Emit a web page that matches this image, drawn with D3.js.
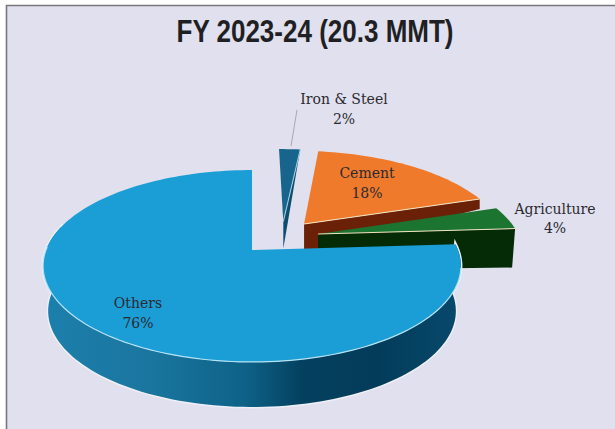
<!DOCTYPE html>
<html>
<head>
<meta charset="utf-8">
<script src="https://cdn.jsdelivr.net/npm/d3@7"></script>
<style>
    html, body { margin: 0; padding: 0; background: #fff; }
    svg { display: block; }
    .label { font-family: "DejaVu Serif", serif; font-size: 14px; text-anchor: middle; fill: #2b2a30; }
</style>
</head>
<body>
<div id="chart"></div>
<script>
var title = 'FY 2023-24 (20.3 MMT)';
var categories = ['Iron & Steel', 'Cement', 'Agriculture', 'Others'];
var shares = [2, 18, 4, 76];

var width = 615, height = 429;

// exploded offset of each slice on the disc, wall depth at apex and rim
var explode = {
    'Iron & Steel': { u: 0.16, v: 0.32, near: 27, far: 0, top: '#17648d', wall: '#0d4c6e' },
    'Cement': { u: 0.265, v: 0.292, near: 30, far: 10, top: '#f07a2c', wall: '#6b2107' },
    'Agriculture': { u: 0.33, v: 0.176, near: 36, far: 39, top: '#1c7431', wall: '#042a06' },
    'Others': { u: 0, v: 0, top: '#1b9dd6' }
};
var labelAt = {
    'Iron & Steel': [344, 104, 124],
    'Cement': [367, 178, 198],
    'Agriculture': [555, 214, 233],
    'Others': [138, 308, 328]
};

var svg = d3.select('#chart').append('svg').attr('width', width).attr('height', height);

svg.append('rect').attr('x', 6).attr('y', 5).attr('width', width - 6).attr('height', height - 5)
    .attr('fill', '#e0e0ee');
svg.append('path').attr('d', 'M6.5,' + height + 'V5.5H' + width)
    .attr('fill', 'none').attr('stroke', '#77777c').attr('stroke-width', 1.6);

var defs = svg.append('defs');
var grad = defs.append('linearGradient').attr('id', 'othersWall')
    .attr('gradientUnits', 'userSpaceOnUse').attr('x1', 46).attr('x2', 460).attr('y1', 0).attr('y2', 0);
[[0, '#1c7fab'], [0.25, '#1a769f'], [0.48, '#0e6288'], [0.62, '#04405f'], [0.8, '#033c5a'], [1, '#07496c']]
    .forEach(function (s) {
        grad.append('stop').attr('offset', s[0]).attr('stop-color', s[1]);
    });

// top plane and floor plane of the disc, same tilt
var tilt = 1 / 6;
var xTop = d3.scaleLinear().domain([0, 1]).range([252, 458]);
var yTop = d3.scaleLinear().domain([0, 1]).range([250, 156.7]);
var xFloor = d3.scaleLinear().domain([0, 1]).range([252, 453]);
var yFloor = d3.scaleLinear().domain([0, 1]).range([295, 201.7]);

function project(u, v, xs, ys) {
    var w = 1 + tilt * v;
    return [xs(u / w), ys(v / w)];
}

function rimPoints(a0, a1, off, xs, ys) {
    var n = Math.max(2, Math.ceil((a1 - a0) / 0.03));
    return d3.range(n + 1).map(function (i) {
        var a = a0 + (a1 - a0) * i / n;
        return project(off.u + Math.sin(a), off.v + Math.cos(a), xs, ys);
    });
}

var line = d3.line();
var arcs = d3.pie().sort(null).value(function (d, i) { return shares[i]; })(categories);

function drawSlice(d) {
    var off = explode[d.data];
    var apex = project(off.u, off.v, xTop, yTop);
    var rim = rimPoints(d.startAngle, d.endAngle, off, xTop, yTop);
    var g = svg.append('g').attr('class', 'slice');

    if (d.data === 'Others') {
        var rimEnd = (285 / 180) * Math.PI;
        var upper = rimPoints(d.startAngle, rimEnd, off, xTop, yTop);
        var lower = rimPoints(d.startAngle, rimEnd, off, xFloor, yFloor).reverse();
        g.append('path').attr('d', line(upper.concat(lower)) + 'Z')
            .attr('fill', 'url(#othersWall)').attr('stroke', '#eef0f8').attr('stroke-width', 3);
        g.append('path').attr('d', line(upper.concat(lower)) + 'Z').attr('fill', 'url(#othersWall)');
    } else {
        // the cut edge that faces the viewer
        var edgeEnd = rim[rim.length - 1];
        g.append('path')
            .attr('d', line([apex, edgeEnd, [edgeEnd[0] - (d.data === 'Agriculture' ? 3 : 0), edgeEnd[1] + off.far], [apex[0], apex[1] + off.near]]) + 'Z')
            .attr('fill', off.wall);
    }

    g.append('path').attr('d', line([apex].concat(rim)) + 'Z').attr('fill', off.top);

    // pale highlight on the edges, as in the bevel of the original
    if (d.data === 'Others') {
        var front = rimPoints(d.startAngle + 0.25, (272 / 180) * Math.PI, off, xTop, yTop);
        g.append('path').attr('d', line(front)).attr('fill', 'none')
            .attr('stroke', '#b5e2f4').attr('stroke-width', 1.2);
    } else {
        g.append('path').attr('d', line([apex, rim[rim.length - 1]])).attr('fill', 'none')
            .attr('stroke', d.data === 'Iron & Steel' ? '#9fcbe0' : '#f2e3c0').attr('stroke-width', 1.1);
    }
}

// back to front: the Others disc covers the apex of the rest
[1, 0, 2, 3].forEach(function (i) { drawSlice(arcs[i]); });

svg.append('line').attr('x1', 297).attr('y1', 110).attr('x2', 291).attr('y2', 146)
    .attr('stroke', '#a9a9b4').attr('stroke-width', 1);

categories.forEach(function (c, i) {
    var at = labelAt[c];
    svg.append('text').attr('class', 'label').attr('x', at[0]).attr('y', at[1]).text(c);
    svg.append('text').attr('class', 'label').attr('x', at[0]).attr('y', at[2]).text(shares[i] + '%');
});

// no narrow face installed, so the title is squeezed to the width it has in the source
svg.append('text').attr('x', 315).attr('y', 42).attr('text-anchor', 'middle')
    .attr('font-family', '"Liberation Sans", sans-serif')
    .attr('font-weight', 700).attr('font-size', 31).attr('fill', '#1f1f24')
    .attr('textLength', 277).attr('lengthAdjust', 'spacingAndGlyphs')
    .text(title);
</script>
</body>
</html>
